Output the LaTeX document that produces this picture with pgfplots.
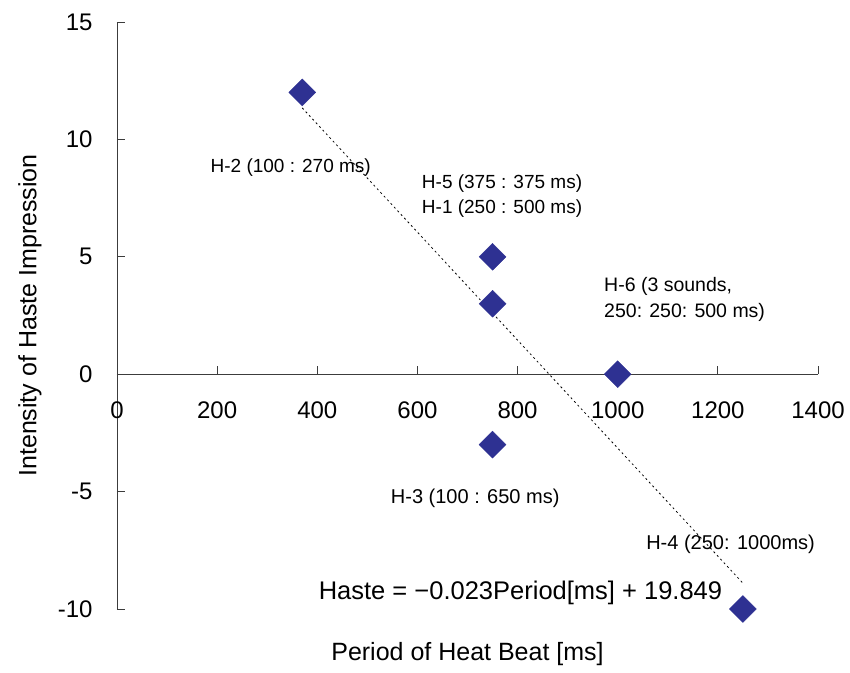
\documentclass[border=0pt]{standalone}
\usepackage{pgfplots}
\pgfplotsset{compat=1.18}
\usepackage{fontspec}
\setmainfont{Liberation Sans}
\definecolor{marknavy}{RGB}{46,49,146}
\definecolor{axisgray}{RGB}{60,60,60}

\begin{document}
\begin{tikzpicture}
\begin{axis}[
  scale only axis,
  width=701pt, height=587pt,
  xmin=0, xmax=1400, ymin=-10, ymax=15,
  axis x line=middle, axis y line=left,
  axis line style={-, line width=0.9pt, axisgray},
  xtick={0,200,...,1400}, ytick={-10,-5,...,15},
  hide obscured x ticks=false, hide obscured y ticks=false,
  tick align=inside,
  major tick length=8pt,
  tick style={line width=0.9pt, axisgray},
  /pgf/number format/assume math mode=true,
  /pgf/number format/1000 sep={},
  ticklabel style={font=\fontsize{24}{28}\selectfont},
  xticklabel style={anchor=north, yshift=-24pt},
  yticklabel style={anchor=east, xshift=-21pt},
  xlabel={Period of Heat Beat [ms]},
  ylabel={Intensity of Haste Impression},
  xlabel style={at={([yshift=-45pt]rel axis cs:0.5,0)}, anchor=center,
    font=\fontsize{25}{30}\selectfont},
  ylabel style={at={([xshift=-87pt]rel axis cs:0,0.5)}, anchor=center, rotate=0,
    font=\fontsize{25}{30}\selectfont},
  clip=false,
]
% trend line
\addplot[black, line width=0.8pt, dash pattern=on 2pt off 3pt]
  coordinates {(370,11.34) (1250,-8.90)};
% measurements
\addplot[only marks, mark=square*, mark size=9.5pt,
  mark options={rotate=45, fill=marknavy, draw=marknavy}]
  coordinates {(370,12) (750,5) (750,3) (1000,0) (750,-3) (1250,-10)};

\node[anchor=west, font=\fontsize{19}{22}\selectfont] at (axis cs:180,8.82) {H-2 (100 : 270 ms)};
\node[anchor=west, font=\fontsize{19}{22}\selectfont] at (axis cs:602,8.13) {H-5 (375 : 375 ms)};
\node[anchor=west, font=\fontsize{19}{22}\selectfont] at (axis cs:602,7.07) {H-1 (250 : 500 ms)};
\node[anchor=west, font=\fontsize{19.5}{22}\selectfont] at (axis cs:966,3.75) {H-6 (3 sounds,};
\node[anchor=west, font=\fontsize{19.5}{22}\selectfont] at (axis cs:966,2.64) {250: 250: 500 ms)};
\node[anchor=west, font=\fontsize{20}{22}\selectfont] at (axis cs:540,-5.28) {H-3 (100 : 650 ms)};
\node[anchor=west, font=\fontsize{20}{22}\selectfont] at (axis cs:1050,-7.24) {H-4 (250: 1000ms)};
\node[anchor=west, font=\fontsize{25.5}{28}\selectfont] at (axis cs:396,-9.33) {Haste = −0.023Period[ms] + 19.849};

\path ([xshift=-117pt,yshift=-63pt]rel axis cs:0,0) rectangle ([xshift=32pt,yshift=22pt]rel axis cs:1,1);
\end{axis}
\end{tikzpicture}
\end{document}
